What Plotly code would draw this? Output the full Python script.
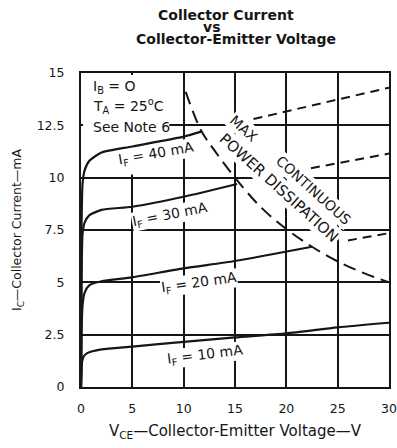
import plotly.graph_objects as go

# ---- axis ticks ----
x_ticks = [0, 5, 10, 15, 20, 25, 30]
x_tick_labels = ["0", "5", "10", "15", "20", "25", "30"]
y_ticks = [0, 2.5, 5, 7.5, 10, 12.5, 15]
y_tick_labels = ["0", "2.5", "5", "7.5", "10", "12.5", "15"]

# ---- characteristic curves (V_CE in V, I_C in mA) ----
v_if10 = [0, 0.05, 0.1, 0.25, 0.6, 2.0, 5, 10, 15, 20, 25, 30]
i_if10 = [0, 0.6, 1.2, 1.45, 1.62, 1.8, 1.93, 2.16, 2.37, 2.56, 2.85, 3.07]

v_if20 = [0, 0.05, 0.15, 0.35, 0.8, 2.0, 5, 10, 15, 22.5]
i_if20 = [0, 2.5, 3.9, 4.5, 4.85, 5.05, 5.24, 5.67, 6.02, 6.7]

v_if30 = [0, 0.05, 0.15, 0.35, 0.8, 2.0, 5, 10, 15.2]
i_if30 = [0, 5.0, 7.3, 7.85, 8.2, 8.46, 8.61, 9.09, 9.7]

v_if40 = [0, 0.05, 0.15, 0.35, 0.8, 2.0, 5, 10, 11.7]
i_if40 = [0, 7.5, 9.7, 10.35, 10.8, 11.2, 11.49, 11.96, 12.2]

# dashed continuations beyond the power limit (visible parts)
v_if20_ext = [26, 30]
i_if20_ext = [7.0, 7.35]
v_if30_ext = [22.4, 30]
i_if30_ext = [10.45, 11.15]
v_if40_ext = [16.8, 30]
i_if40_ext = [12.8, 14.3]

# max continuous power dissipation boundary
v_pmax = [10.2, 11.7, 13, 15, 17.5, 20, 22.5, 25, 27.5, 30]
i_pmax = [14.1, 12.25, 11.3, 10.0, 8.6, 7.55, 6.7, 6.0, 5.45, 5.0]

# curve labels
label_text = ["I<sub>F</sub> = 40 mA", "I<sub>F</sub> = 30 mA",
              "I<sub>F</sub> = 20 mA", "I<sub>F</sub> = 10 mA"]
label_v = [7.3, 8.7, 11.5, 12.1]
label_i = [11.15, 8.2, 4.97, 1.55]
label_angle = [-10, -11, -8, -7]

INK = "#161616"
FONT = "DejaVu Sans, Liberation Sans, Arial, sans-serif"

fig = go.Figure()

for v, i in [(v_if10, i_if10), (v_if20, i_if20), (v_if30, i_if30), (v_if40, i_if40)]:
    fig.add_trace(go.Scatter(x=v, y=i, mode="lines", line=dict(color=INK, width=2.2, shape="spline", smoothing=0.6),
                             showlegend=False, hoverinfo="skip"))

for v, i in [(v_if20_ext, i_if20_ext), (v_if30_ext, i_if30_ext), (v_if40_ext, i_if40_ext)]:
    fig.add_trace(go.Scatter(x=v, y=i, mode="lines", line=dict(color=INK, width=2, dash="9px,6px"),
                             showlegend=False, hoverinfo="skip"))

fig.add_trace(go.Scatter(x=v_pmax, y=i_pmax, mode="lines",
                         line=dict(color=INK, width=2, dash="13px,7px", shape="spline"),
                         showlegend=False, hoverinfo="skip"))

# masks hiding grid behind top-left notes (as in the original sheet)
fig.add_shape(type="rect", xref="x", yref="y", x0=0.2, x1=8.6, y0=12.25, y1=14.9,
              fillcolor="white", line=dict(width=0), layer="between")
fig.add_shape(type="rect", xref="x", yref="y", x0=4.5, x1=5.5, y0=10.15, y1=12.3,
              fillcolor="white", line=dict(width=0), layer="between")

ann = []
# titles
for txt, px, py in [("<b>Collector Current</b>", 0.471, 1.184),
                    ("<b>vs</b>", 0.423, 1.146),
                    ("<b>Collector-Emitter Voltage</b>", 0.503, 1.107)]:
    ann.append(dict(text=txt, x=px, y=py, xref="paper", yref="paper", showarrow=False,
                    font=dict(size=14, color=INK, family=FONT), xanchor="center", yanchor="middle"))

# notes
for txt, yy in [("I<sub>B</sub> = O", 14.33), ("T<sub>A</sub> = 25<sup>o</sup>C", 13.43), ("See Note 6", 12.42)]:
    ann.append(dict(text=txt, x=1.0, y=yy, xref="x", yref="y", showarrow=False, xanchor="left",
                    yanchor="middle", font=dict(size=14, color=INK, family=FONT)))

for t, v, i, a in zip(label_text, label_v, label_i, label_angle):
    ann.append(dict(text=t, x=v, y=i, xref="x", yref="y", showarrow=False, textangle=a,
                    bgcolor="white", borderpad=0, font=dict(size=14, color=INK, family=FONT)))

for t, v, i, fs in [("MAX", 15.9, 12.33, 14), ("POWER DISSIPATION", 19.3, 9.5, 15), ("CONTINUOUS", 22.6, 9.4, 14)]:
    ann.append(dict(text=t, x=v, y=i, xref="x", yref="y", showarrow=False, textangle=42,
                    bgcolor="white", borderpad=1, font=dict(size=fs, color=INK, family=FONT)))

fig.update_layout(
    width=397, height=448,
    margin=dict(l=81, r=8, t=73, b=61, autoexpand=False),
    paper_bgcolor="white", plot_bgcolor="white",
    font=dict(family=FONT, color=INK, size=13),
    annotations=ann,
    xaxis=dict(range=[0, 30], tickvals=x_ticks, ticktext=x_tick_labels, automargin=False,
               showgrid=True, gridcolor=INK, gridwidth=1.6, zeroline=False,
               showline=True, linecolor=INK, linewidth=2, mirror=True,
               ticks="", ticklabelstandoff=9, ticklabeloverflow="allow", tickfont=dict(size=12.5),
               title=dict(text="V<sub>CE</sub>\u2014Collector-Emitter Voltage\u2014V",
                          font=dict(size=15), standoff=10)),
    yaxis=dict(range=[0, 15], tickvals=y_ticks, ticktext=y_tick_labels, automargin=False,
               showgrid=True, gridcolor=INK, gridwidth=1.6, zeroline=False,
               showline=True, linecolor=INK, linewidth=2, mirror=True,
               ticks="", ticklabelstandoff=12, ticklabeloverflow="allow", tickfont=dict(size=12.5),
               title=dict(text="I<sub>C</sub>\u2014Collector Current\u2014mA",
                          font=dict(size=12.5), standoff=12)),
)

fig.write_html("out.html", config={"displayModeBar": False},
               post_script="document.body.style.margin='0';document.body.style.padding='0';")
